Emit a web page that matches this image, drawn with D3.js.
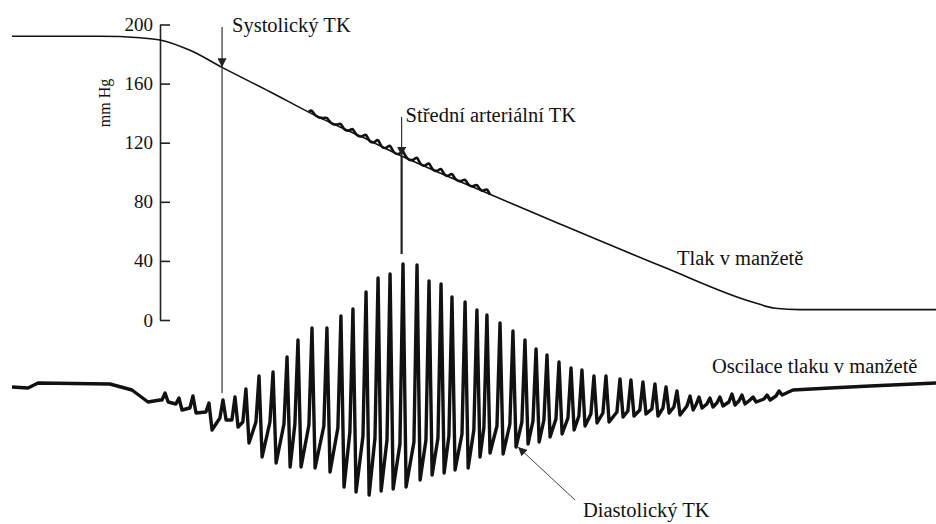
<!DOCTYPE html>
<html>
<head>
<meta charset="utf-8">
<script src="https://cdn.jsdelivr.net/npm/d3@7"></script>
<style>
  body { margin: 0; background: #fff; }
  svg { display: block; }
  text { font-family: "Liberation Serif", Tinos, "Times New Roman", Times, "DejaVu Serif", "Noto Serif", serif; fill: #111; }
</style>
</head>
<body>
<svg width="936" height="524"></svg>
<script>
// cuff pressure (mmHg) over time (s)
const cuffTime = [0, 5.71, 8.31, 9.61, 11.56, 13.64, 16.75, 19.68, 22.60, 25.19, 27.79, 30.39, 35.58, 42.27, 48.12, 49.55, 51.17, 60];
const cuffPressure = [192, 192, 191, 189.5, 182.5, 171, 154.5, 138.5, 124.5, 111.5, 99.5, 88, 65, 36, 12, 8, 7, 7];

// oscillation trace: quiet lead-in and lead-out (time s, relative units)
const leadInTime = [0, 1.04, 1.69, 6.36, 7.79, 8.83, 9.61];
const leadInValue = [6.5, 6, 8.5, 8, 5, -1, 0];
const leadOutTime = [50.71, 53.12, 55.71, 60];
const leadOutValue = [5, 6, 7, 8.5];

// individual pulses: time of peak, peak, trough and base level before the pulse
const pulseTime = [9.94, 10.84, 11.75, 12.79, 13.70, 14.48, 15.19, 16.04, 16.95, 17.86,
  18.57, 19.48, 20.45, 21.36, 22.14, 22.99, 23.77, 24.55, 25.39, 26.30,
  27.08, 27.86, 28.57, 29.42, 30.19, 30.84, 31.69, 32.53, 33.31, 34.03,
  34.74, 35.52, 36.30, 37.01, 37.79, 38.57, 39.48, 40.19, 40.97, 41.75,
  42.47, 43.18, 44.03, 44.61, 45.32, 45.97, 46.75, 47.40, 48.12, 49.03, 49.81];
const pulseTop = [3.5, 1, 2, -1.5, 0, 1.5, 5.5, 12, 14, 21.5,
  30, 36, 36, 42, 45.5, 54, 61, 63, 68, 67.5,
  59.5, 58, 51.5, 49, 45, 42.5, 38.5, 34.5, 30, 25.5,
  22.5, 19, 16, 15, 12, 12, 10.5, 10, 9, 8,
  6.5, 4.5, 2, 1.5, 1, 1.5, 3, 2.5, 1.5, 2.5, 4.5];
const pulseTrough = [-1, -5, -6.5, -15, -10, -13.5, -21.5, -28.5, -31.5, -33.5,
  -33.5, -34, -36, -43.5, -46, -47.5, -45.5, -44.5, -43.5, -40,
  -37.5, -36.5, -35, -34, -28.5, -26.5, -27, -23.5, -22, -21,
  -18.5, -17, -15, -13, -11.5, -11, -8.5, -8, -7, -8,
  -6.5, -7.5, -5, -4, -3.5, -3, -2.5, -2, -1, 0, 2.5];
const pulseBase = [0, -2, -4, -6, -9, -10, -11, -11, -11, -12,
  -12, -12.5, -13, -14, -16, -18, -19, -20, -22, -21,
  -20, -19, -18, -17, -15, -14, -13, -12, -11, -10.5,
  -10, -9.5, -9, -8, -7, -6.5, -6, -5.5, -5, -4.5,
  -4, -3.5, -3, -2.5, -2, -1.5, -1, -0.5, 0, 0.5, 2];

const yTicks = [0, 40, 80, 120, 160, 200];

// annotated moments (s)
const systolicTime = 13.64;
const meanTime = 25.3;
const diastolicPulse = 27; // index into pulses

const svg = d3.select("svg");

const xScale = d3.scaleLinear().domain([0, 60]).range([12, 936]);
const yScale = d3.scaleLinear().domain([0, 200]).range([320, 24.5]);
const oscScale = d3.scaleLinear().domain([-70, 70]).range([540, 260]);
const cuffAt = d3.scaleLinear().domain(cuffTime).range(cuffPressure);

// y axis: ticks to the right, labels to the left
const yAxis = d3.axisLeft(yScale)
  .tickValues(yTicks)
  .tickSizeInner(-10)
  .tickSizeOuter(0)
  .tickPadding(7);

const axisG = svg.append("g")
  .attr("transform", `translate(${160},0)`)
  .call(yAxis)
  .attr("font-family", null);
axisG.select(".domain").attr("stroke", "#222").attr("stroke-width", 1.6);
axisG.selectAll(".tick line").attr("stroke", "#222").attr("stroke-width", 1.6);
axisG.selectAll(".tick text")
  .attr("font-size", 19)
  .attr("fill", "#111");

svg.append("text")
  .attr("transform", "translate(104,103) rotate(-90)")
  .attr("text-anchor", "middle")
  .attr("dy", "0.35em")
  .attr("font-size", 16)
  .text("mm Hg");

// cuff pressure line
const cuffData = cuffTime.map((t, i) => ({ t: t, p: cuffPressure[i] }));
const cuffLine = d3.line()
  .x(d => xScale(d.t))
  .y(d => yScale(d.p))
  .curve(d3.curveMonotoneX);

svg.append("path")
  .datum(cuffData)
  .attr("fill", "none")
  .attr("stroke", "#111")
  .attr("stroke-width", 1.6)
  .attr("d", cuffLine);

// oscillation trace
const oscPoints = [];
leadInTime.forEach((t, i) => oscPoints.push({ t: t, v: leadInValue[i] }));
pulseTime.forEach((t, i) => {
  oscPoints.push({ t: t - 0.2, v: pulseBase[i] });
  oscPoints.push({ t: t, v: pulseTop[i] });
  oscPoints.push({ t: t + 0.2, v: pulseTrough[i] });
});
leadOutTime.forEach((t, i) => oscPoints.push({ t: t, v: leadOutValue[i] }));

const oscLine = d3.line()
  .x(d => xScale(d.t))
  .y(d => oscScale(d.v));

svg.append("path")
  .datum(oscPoints)
  .attr("fill", "none")
  .attr("stroke", "#111")
  .attr("stroke-width", 3.4)
  .attr("stroke-linejoin", "round")
  .attr("d", oscLine);

// pulses riding on the cuff pressure around mean pressure
const wobble = [];
pulseTime.forEach((t, i) => {
  if (t < 19.4 || t > 30.9) return;
  [[t - 0.2, pulseBase[i]], [t, pulseTop[i]], [t + 0.2, pulseTrough[i]]].forEach(([tt, v]) => {
    const dy = (oscScale(v) - oscScale(pulseBase[i])) * 0.04;
    wobble.push([xScale(tt), yScale(cuffAt(tt)) + dy - 0.5]);
  });
});
svg.append("path")
  .datum(wobble)
  .attr("fill", "none")
  .attr("stroke", "#111")
  .attr("stroke-width", 2.6)
  .attr("d", d3.line().curve(d3.curveBasis));

// arrow marker
const defs = svg.append("defs");
defs.append("marker")
  .attr("id", "head")
  .attr("viewBox", "0 0 10 10")
  .attr("refX", 10)
  .attr("refY", 5)
  .attr("markerWidth", 9)
  .attr("markerHeight", 9)
  .attr("markerUnits", "userSpaceOnUse")
  .attr("orient", "auto")
  .append("path")
  .attr("d", "M0,0L10,5L0,10Z")
  .attr("fill", "#222");

// systolic
const sx = xScale(systolicTime);
svg.append("line")
  .attr("x1", sx).attr("x2", sx)
  .attr("y1", 27).attr("y2", yScale(cuffAt(systolicTime)))
  .attr("stroke", "#333").attr("stroke-width", 1.2)
  .attr("marker-end", "url(#head)");
svg.append("line")
  .attr("x1", sx).attr("x2", sx)
  .attr("y1", yScale(cuffAt(systolicTime))).attr("y2", oscScale(3.5))
  .attr("stroke", "#333").attr("stroke-width", 1.2);
svg.append("text")
  .attr("x", sx + 10).attr("y", 32)
  .attr("font-size", 20.5)
  .text("Systolický TK");

// mean arterial
const mx = xScale(meanTime);
svg.append("line")
  .attr("x1", mx).attr("x2", mx)
  .attr("y1", 117).attr("y2", yScale(cuffAt(meanTime)))
  .attr("stroke", "#333").attr("stroke-width", 1.2)
  .attr("marker-end", "url(#head)");
svg.append("line")
  .attr("x1", mx).attr("x2", mx)
  .attr("y1", yScale(cuffAt(meanTime))).attr("y2", oscScale(d3.max(pulseTop)) - 10)
  .attr("stroke", "#222").attr("stroke-width", 2.2);
svg.append("text")
  .attr("x", mx + 4).attr("y", 122)
  .attr("font-size", 20.5)
  .text("Střední arteriální TK");

// diastolic
const dt = pulseTime[diastolicPulse] + 0.2;
const dxp = xScale(dt) + 2;
const dyp = oscScale(pulseTrough[diastolicPulse]);
svg.append("line")
  .attr("x1", dxp + 57).attr("y1", dyp + 53)
  .attr("x2", dxp).attr("y2", dyp)
  .attr("stroke", "#444").attr("stroke-width", 1)
  .attr("marker-end", "url(#head)");
svg.append("text")
  .attr("x", 583).attr("y", 517)
  .attr("font-size", 20.5)
  .text("Diastolický TK");

// curve labels
svg.append("text")
  .attr("x", 677).attr("y", 265)
  .attr("font-size", 20.5)
  .text("Tlak v manžetě");
svg.append("text")
  .attr("x", 712).attr("y", 373)
  .attr("font-size", 20.5)
  .text("Oscilace tlaku v manžetě");
</script>
</body>
</html>
